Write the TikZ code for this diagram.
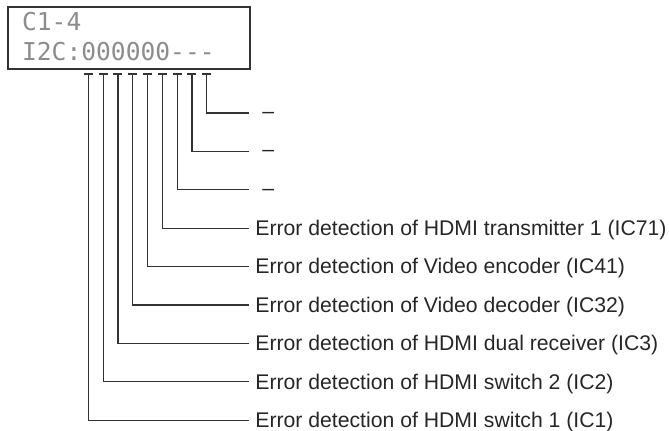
\documentclass[tikz,border=0pt]{standalone}
\usepackage{fontspec}
\setmainfont{Liberation Sans}
\newfontfamily\lcdfamily{DejaVu Sans Mono}
\usetikzlibrary{positioning}

\begin{document}
\begin{tikzpicture}[
    x=0.5pt, y=-0.5pt,
    every node/.style={inner sep=0pt},
    display/.style={draw=black!80, line width=1pt, anchor=north west, minimum width=121pt, minimum height=30.8pt},
    lcdtext/.style={anchor=base west, font=\lcdfamily\fontsize{12.3}{14}\selectfont, text=black!45},
    bitlabel/.style={anchor=west, font=\fontsize{10.6}{12}\selectfont, text=black!85, inner xsep=3pt, text height=0.72em, text depth=0pt},
    unused/.style={bitlabel, inner xsep=6.5pt, yshift=0.9pt},
    lead/.style={draw=black!80, line width=0.6pt}
]
    \useasboundingbox (0,0) rectangle (669,430);

    % LCD window
    \node (lcd) [display] at (7,6) {};
    \node (lcdtop) [lcdtext] at (21.7,30) {C1-4};
    \node (lcdbottom) [lcdtext] at (21.7,60) {I2C:000000---};

    % one tick under each digit
    \coordinate (t1) at (88.3,74);
    \coordinate (t2) at (103.1,74);
    \coordinate (t3) at (117.9,74);
    \coordinate (t4) at (132.7,74);
    \coordinate (t5) at (147.5,74);
    \coordinate (t6) at (162.3,74);
    \coordinate (t7) at (177.1,74);
    \coordinate (t8) at (191.9,74);
    \coordinate (t9) at (206.7,74);

    \node (spare3) [unused] at (249,113) {–};
    \node (spare2) [unused] at (249,151.4) {–};
    \node (spare1) [unused] at (249,189.8) {–};
    \node (hdmitx) [bitlabel] at (249,228.2) {Error detection of HDMI transmitter 1 (IC71)};
    \node (venc) [bitlabel] at (249,266.6) {Error detection of Video encoder (IC41)};
    \node (vdec) [bitlabel] at (249,305) {Error detection of Video decoder (IC32)};
    \node (dualrx) [bitlabel] at (249,343.4) {Error detection of HDMI dual receiver (IC3)};
    \node (sw2) [bitlabel] at (249,381.8) {Error detection of HDMI switch 2 (IC2)};
    \node (sw1) [bitlabel] at (249,420.2) {Error detection of HDMI switch 1 (IC1)};

    \draw [lead] (t1) ++(-4.5,0) -- ++(9,0) (t1) |- (sw1.west);
    \draw [lead] (t2) ++(-4.5,0) -- ++(9,0) (t2) |- (sw2.west);
    \draw [lead] (t3) ++(-4.5,0) -- ++(9,0) (t3) |- (dualrx.west);
    \draw [lead] (t4) ++(-4.5,0) -- ++(9,0) (t4) |- (vdec.west);
    \draw [lead] (t5) ++(-4.5,0) -- ++(9,0) (t5) |- (venc.west);
    \draw [lead] (t6) ++(-4.5,0) -- ++(9,0) (t6) |- (hdmitx.west);
    \draw [lead] (t7) ++(-4.5,0) -- ++(9,0) (t7) |- ([yshift=-0.9pt]spare1.west);
    \draw [lead] (t8) ++(-4.5,0) -- ++(9,0) (t8) |- ([yshift=-0.9pt]spare2.west);
    \draw [lead] (t9) ++(-4.5,0) -- ++(9,0) (t9) |- ([yshift=-0.9pt]spare3.west);
\end{tikzpicture}
\end{document}
